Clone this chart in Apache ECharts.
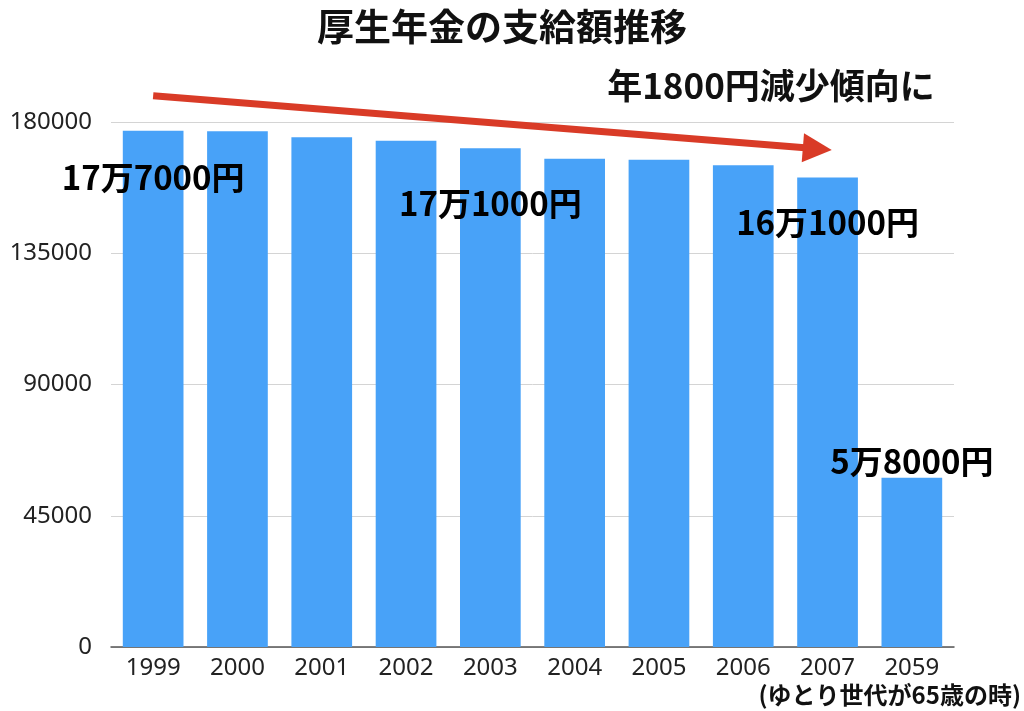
<!DOCTYPE html>
<html><head><meta charset="utf-8">
<script src="https://cdn.jsdelivr.net/npm/echarts@6/dist/echarts.min.js"></script>
<style>html,body{margin:0;padding:0;background:#fff}#c{width:1024px;height:711px}</style>
</head><body><div id="c"></div>
<script>
const categories = ['1999','2000','2001','2002','2003','2004','2005','2006','2007','2059'];
const values = [177000, 176800, 174800, 173600, 171000, 167400, 167100, 165200, 161000, 58000];
const yTicks = [0, 45000, 90000, 135000, 180000];
const barLabels = ['17万7000円', '', '', '', '17万1000円', '', '', '', '16万1000円', '5万8000円'];
const titleText = '厚生年金の支給額推移';
const trendText = '年1800円減少傾向に';
const footText = '(ゆとり世代が65歳の時)';
// trend arrow in data units: [category index, value]
const arrowFrom = [0, 189000];
const arrowTo = [8.05, 170400];

const CJK = '"Noto Sans CJK JP","Noto Sans",sans-serif';
const labelStyle = {
  0: {position: 'insideTop', distance: 29},
  4: {position: 'insideTop', distance: 37},
  8: {position: 'insideTop', distance: 27},
  9: {position: 'top', distance: -2}
};

const data = values.map((v, i) => {
  const item = {value: v};
  if (barLabels[i]) {
    item.label = Object.assign({
      show: true, formatter: barLabels[i], color: '#000',
      fontFamily: CJK, fontWeight: 'bold', fontSize: 33, lineHeight: 36
    }, labelStyle[i]);
  }
  return item;
});

const chart = echarts.init(document.getElementById('c'), null, {renderer: 'canvas'});
const option = {
  backgroundColor: '#fff',
  animation: false,
  grid: {left: 111, right: 70, top: 122, bottom: 64, containLabel: false},
  xAxis: {
    type: 'category', data: categories,
    axisLine: {show: true, lineStyle: {color: '#555', width: 1.5}},
    axisTick: {show: false},
    axisLabel: {color: '#222', fontSize: 24, fontFamily: '"Noto Sans",sans-serif', margin: 9}
  },
  yAxis: {
    type: 'value', min: yTicks[0], max: yTicks[yTicks.length - 1], interval: yTicks[1] - yTicks[0],
    axisLine: {show: false}, axisTick: {show: false},
    splitLine: {lineStyle: {color: '#d4d4d4', width: 1}},
    axisLabel: {color: '#222', fontSize: 24, fontFamily: '"Noto Sans",sans-serif', margin: 19,
      formatter: v => String(v)}
  },
  series: [{
    type: 'bar', data: data, barWidth: '72%',
    itemStyle: {color: '#48a2f8'},
    z: 2
  }]
};
chart.setOption(option);

function toPx(pt) {
  const i0 = Math.floor(pt[0]);
  const frac = pt[0] - i0;
  const a = chart.convertToPixel({gridIndex: 0}, [i0, pt[1]]);
  const b = chart.convertToPixel({gridIndex: 0}, [i0 + 1, pt[1]]);
  return [a[0] + (b[0] - a[0]) * frac, a[1]];
}
const p0 = toPx(arrowFrom), p1 = toPx(arrowTo);
const dx = p1[0] - p0[0], dy = p1[1] - p0[1];
const len = Math.sqrt(dx * dx + dy * dy);
const ux = dx / len, uy = dy / len;
const headLen = 29, headHalf = 14.5;
const base = [p1[0] - ux * headLen, p1[1] - uy * headLen];
const arrowColor = '#d93b27';

chart.setOption({
  graphic: [
    {type: 'text', x: 502, y: 27, z: 10, style: {text: titleText, fontSize: 37, fontWeight: 'bold', fontFamily: CJK, fill: '#111', align: 'center', verticalAlign: 'middle'}},
    {type: 'text', x: 771, y: 86, z: 10, style: {text: trendText, fontSize: 35, fontWeight: 'bold', fontFamily: CJK, fill: '#111', align: 'center', verticalAlign: 'middle'}},
    {type: 'text', x: 1021, y: 695, z: 10, style: {text: footText, fontSize: 24, fontWeight: 'bold', fontFamily: CJK, fill: '#111', align: 'right', verticalAlign: 'middle'}},
    {type: 'line', z: 10, shape: {x1: p0[0], y1: p0[1], x2: base[0] + ux * 2, y2: base[1] + uy * 2}, style: {stroke: arrowColor, lineWidth: 7}},
    {type: 'polygon', z: 10, shape: {points: [
      [p1[0], p1[1]],
      [base[0] - uy * headHalf, base[1] + ux * headHalf],
      [base[0] + uy * headHalf, base[1] - ux * headHalf]
    ]}, style: {fill: arrowColor}}
  ]
});
</script>
</body></html>
